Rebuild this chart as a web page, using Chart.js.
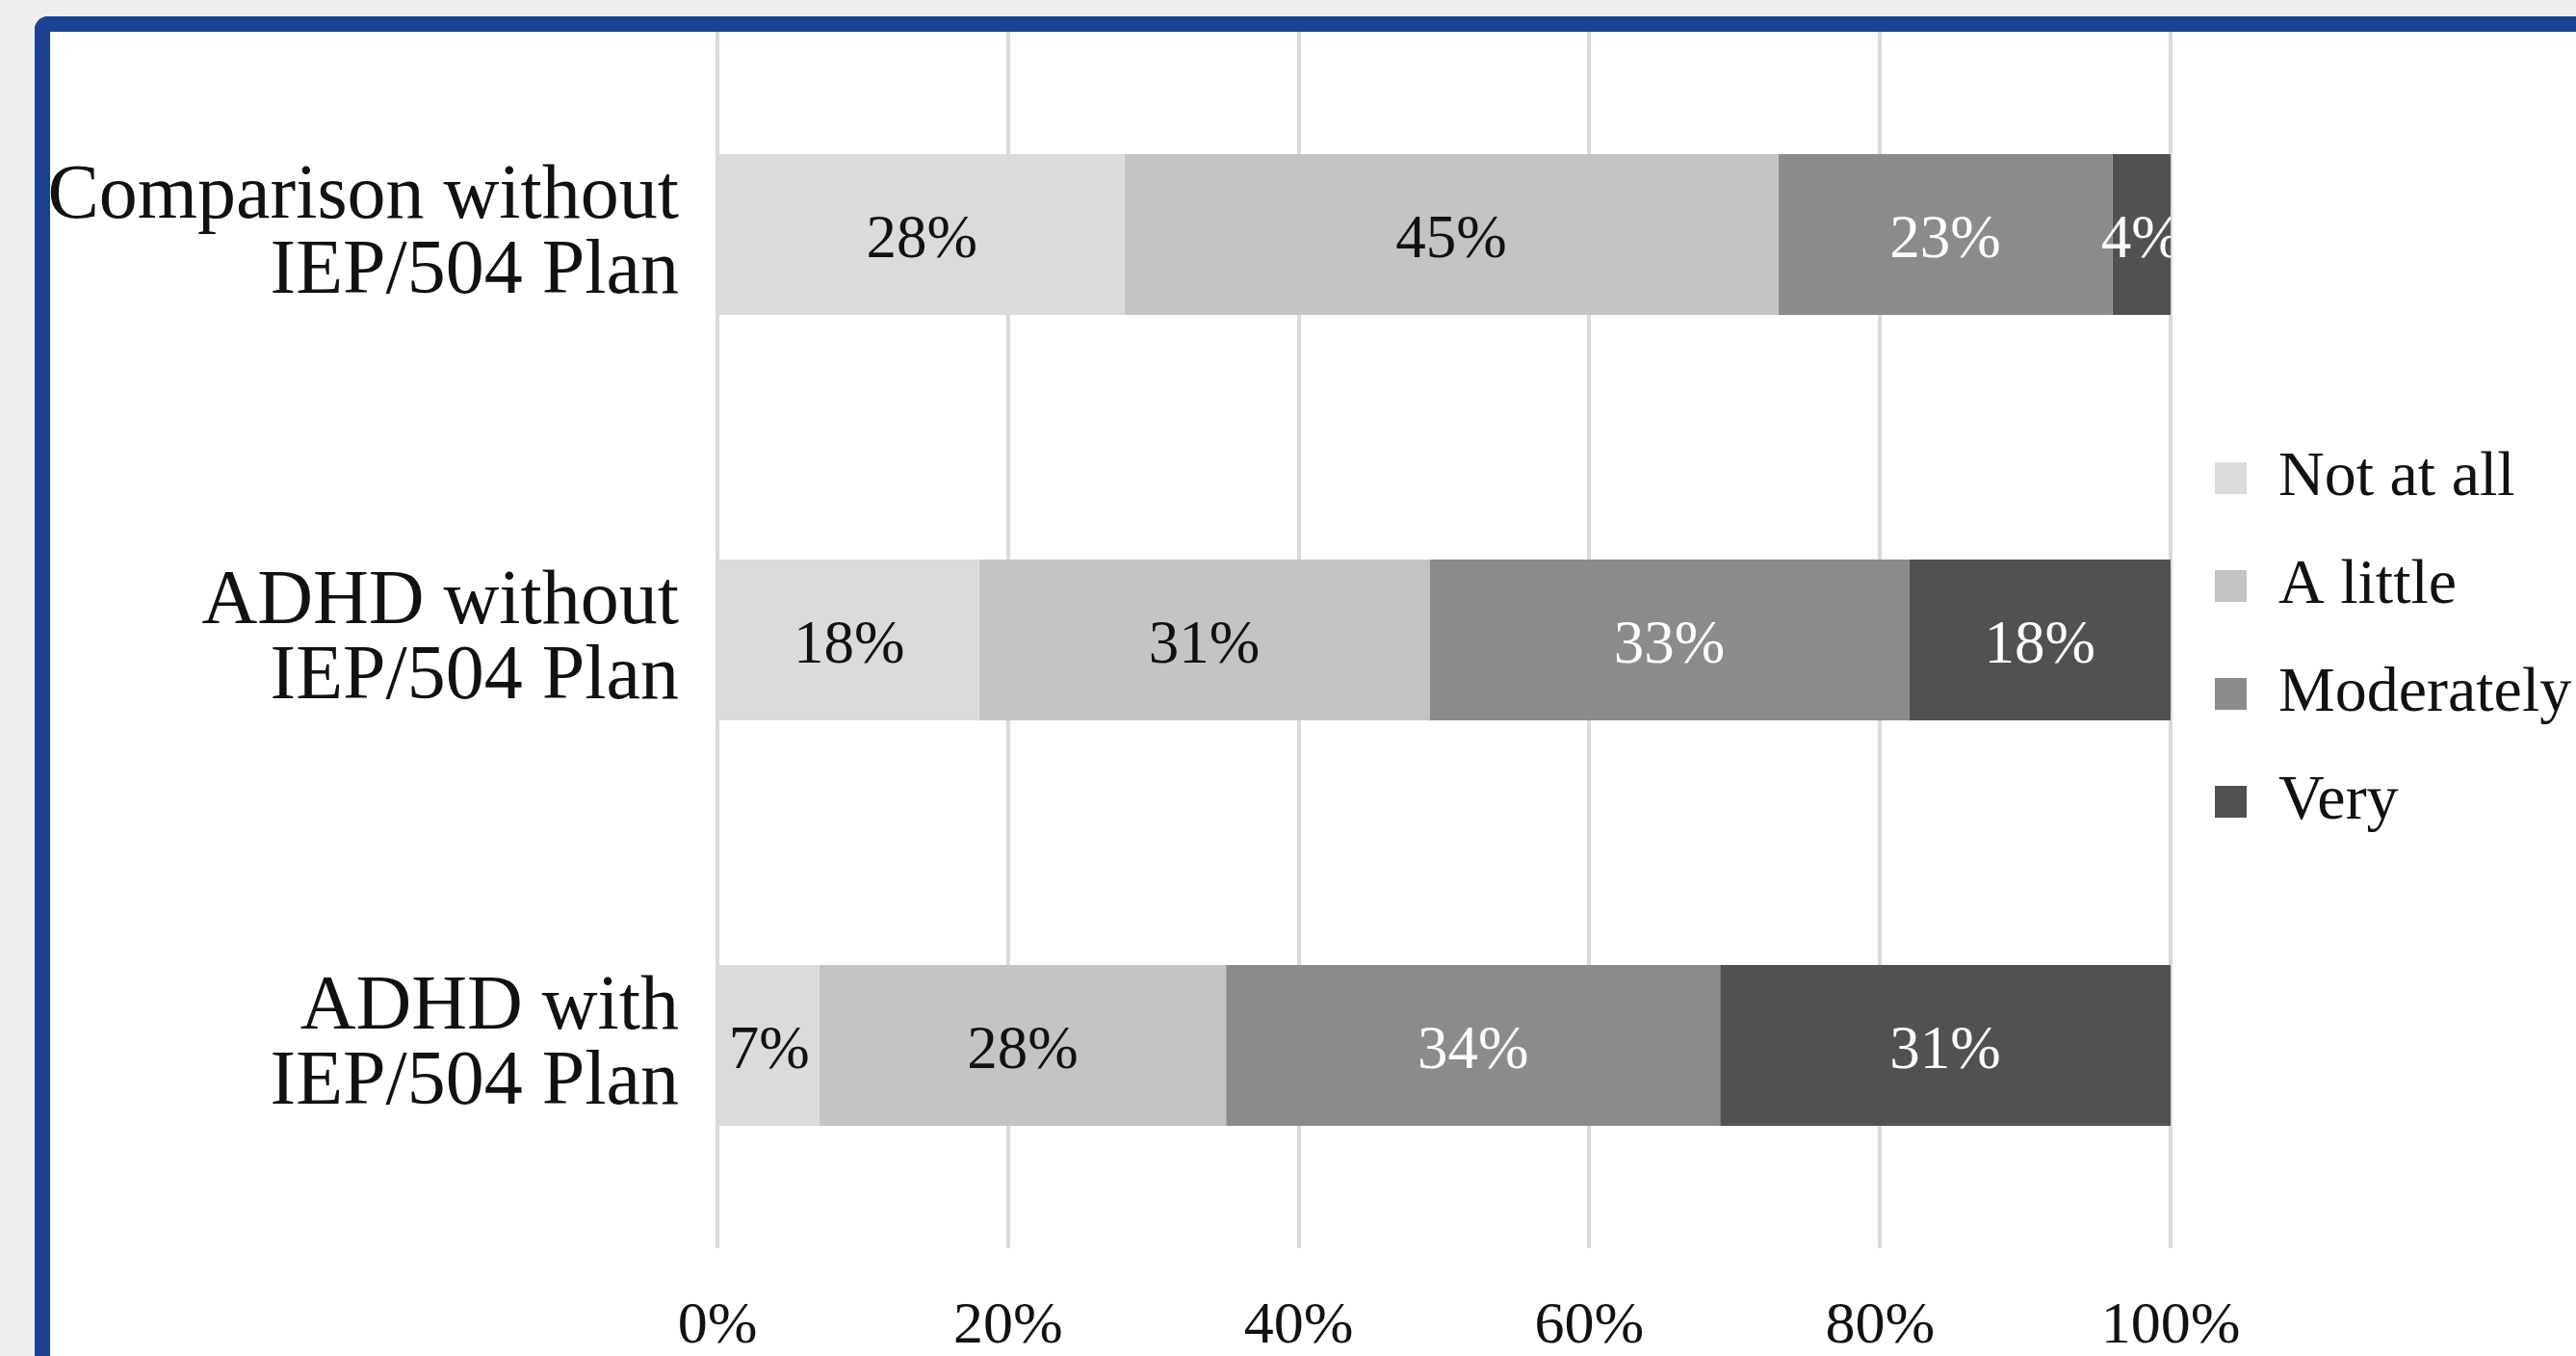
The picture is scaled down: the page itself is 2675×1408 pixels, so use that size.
<!DOCTYPE html>
<html>
<head>
<meta charset="utf-8">
<script src="https://cdn.jsdelivr.net/npm/chart.js@4.4.1/dist/chart.umd.min.js"></script>
<style>
  html, body { margin: 0; padding: 0; background: #eeeeee; overflow: hidden; }
  body { width: 2675px; height: 1408px; position: relative; }
  .card {
    position: absolute; left: 36px; top: 17px; width: 2800px; height: 1500px;
    background: #ffffff;
    border-left: 16px solid #1b4391; border-top: 16px solid #1b4391;
    border-top-left-radius: 14px;
  }
  #chart { position: absolute; left: 52px; top: 33px; }
</style>
</head>
<body>
<div class="card"></div>
<canvas id="chart" width="2623" height="1375"></canvas>
<script>
// groups shown on the y axis, top to bottom
const groups = [
    ['Comparison without', 'IEP/504 Plan'],
    ['ADHD without', 'IEP/504 Plan'],
    ['ADHD with', 'IEP/504 Plan']
];

// answer levels (legend order)
const levels = ['Not at all', 'A little', 'Moderately', 'Very'];

// percentages per group, one array per level
const notAtAll = [28, 18, 7];
const aLittle = [45, 31, 28];
const moderately = [23, 33, 34];
const very = [4, 18, 31];

const xTicks = [0, 20, 40, 60, 80, 100];

const fillColors = ['#dbdbdd', '#c4c4c6', '#8b8b8b', '#515151'];
const labelColors = ['#111111', '#111111', '#ffffff', '#ffffff'];

const serif = "'Liberation Serif', 'Times New Roman', serif";

// writes the value in the middle of every segment
const segmentLabels = {
    id: 'segmentLabels',
    afterDatasetsDraw(chart) {
        const ctx = chart.ctx;
        const area = chart.chartArea;
        ctx.save();
        ctx.beginPath();
        ctx.rect(area.left, area.top, area.right - area.left, area.bottom - area.top);
        ctx.clip();
        ctx.font = '63px ' + serif;
        ctx.textAlign = 'center';
        ctx.textBaseline = 'middle';
        chart.data.datasets.forEach(function (ds, i) {
            const meta = chart.getDatasetMeta(i);
            ctx.fillStyle = labelColors[i];
            meta.data.forEach(function (bar, j) {
                const cx = (bar.x + bar.base) / 2;
                ctx.fillText(ds.data[j] + '%', cx, bar.y + 7);
            });
        });
        ctx.restore();
    }
};

const seriesData = [notAtAll, aLittle, moderately, very];

const ctx = document.getElementById('chart').getContext('2d');
new Chart(ctx, {
    type: 'bar',
    data: {
        labels: groups,
        datasets: levels.map(function (name, i) {
            return {
                label: name,
                data: seriesData[i],
                backgroundColor: fillColors[i],
                borderWidth: 0,
                categoryPercentage: 1,
                barPercentage: 0.397
            };
        })
    },
    options: {
        indexAxis: 'y',
        responsive: false,
        animation: false,
        devicePixelRatio: 1,
        layout: { padding: { left: 0, top: 0, right: 5, bottom: 0 } },
        plugins: {
            tooltip: { enabled: false },
            legend: {
                position: 'right',
                fullSize: false,
                maxWidth: 416,
                labels: {
                    boxWidth: 33,
                    boxHeight: 33,
                    padding: 46,
                    color: '#111111',
                    font: { family: serif, size: 66 }
                }
            }
        },
        scales: {
            x: {
                stacked: true,
                min: 0,
                max: 100,
                afterBuildTicks: function (scale) {
                    scale.ticks = xTicks.map(function (v) { return { value: v }; });
                },
                ticks: {
                    padding: 45,
                    color: '#111111',
                    font: { family: serif, size: 62 },
                    callback: function (v) { return v + '%'; }
                },
                grid: { color: '#d9d9d9', lineWidth: 4, drawTicks: false },
                border: { display: false },
                afterFit: function (scale) {
                    scale.height = 112;
                    scale.paddingLeft = 0;
                    scale.paddingRight = 0;
                }
            },
            y: {
                stacked: true,
                ticks: {
                    padding: 40,
                    color: '#111111',
                    font: { family: serif, size: 80, lineHeight: 0.975 }
                },
                grid: { display: false, drawTicks: false },
                border: { display: false },
                afterFit: function (scale) {
                    scale.width = 693;
                    scale.paddingTop = 0;
                    scale.paddingBottom = 0;
                }
            }
        }
    },
    plugins: [segmentLabels]
});
</script>
</body>
</html>
